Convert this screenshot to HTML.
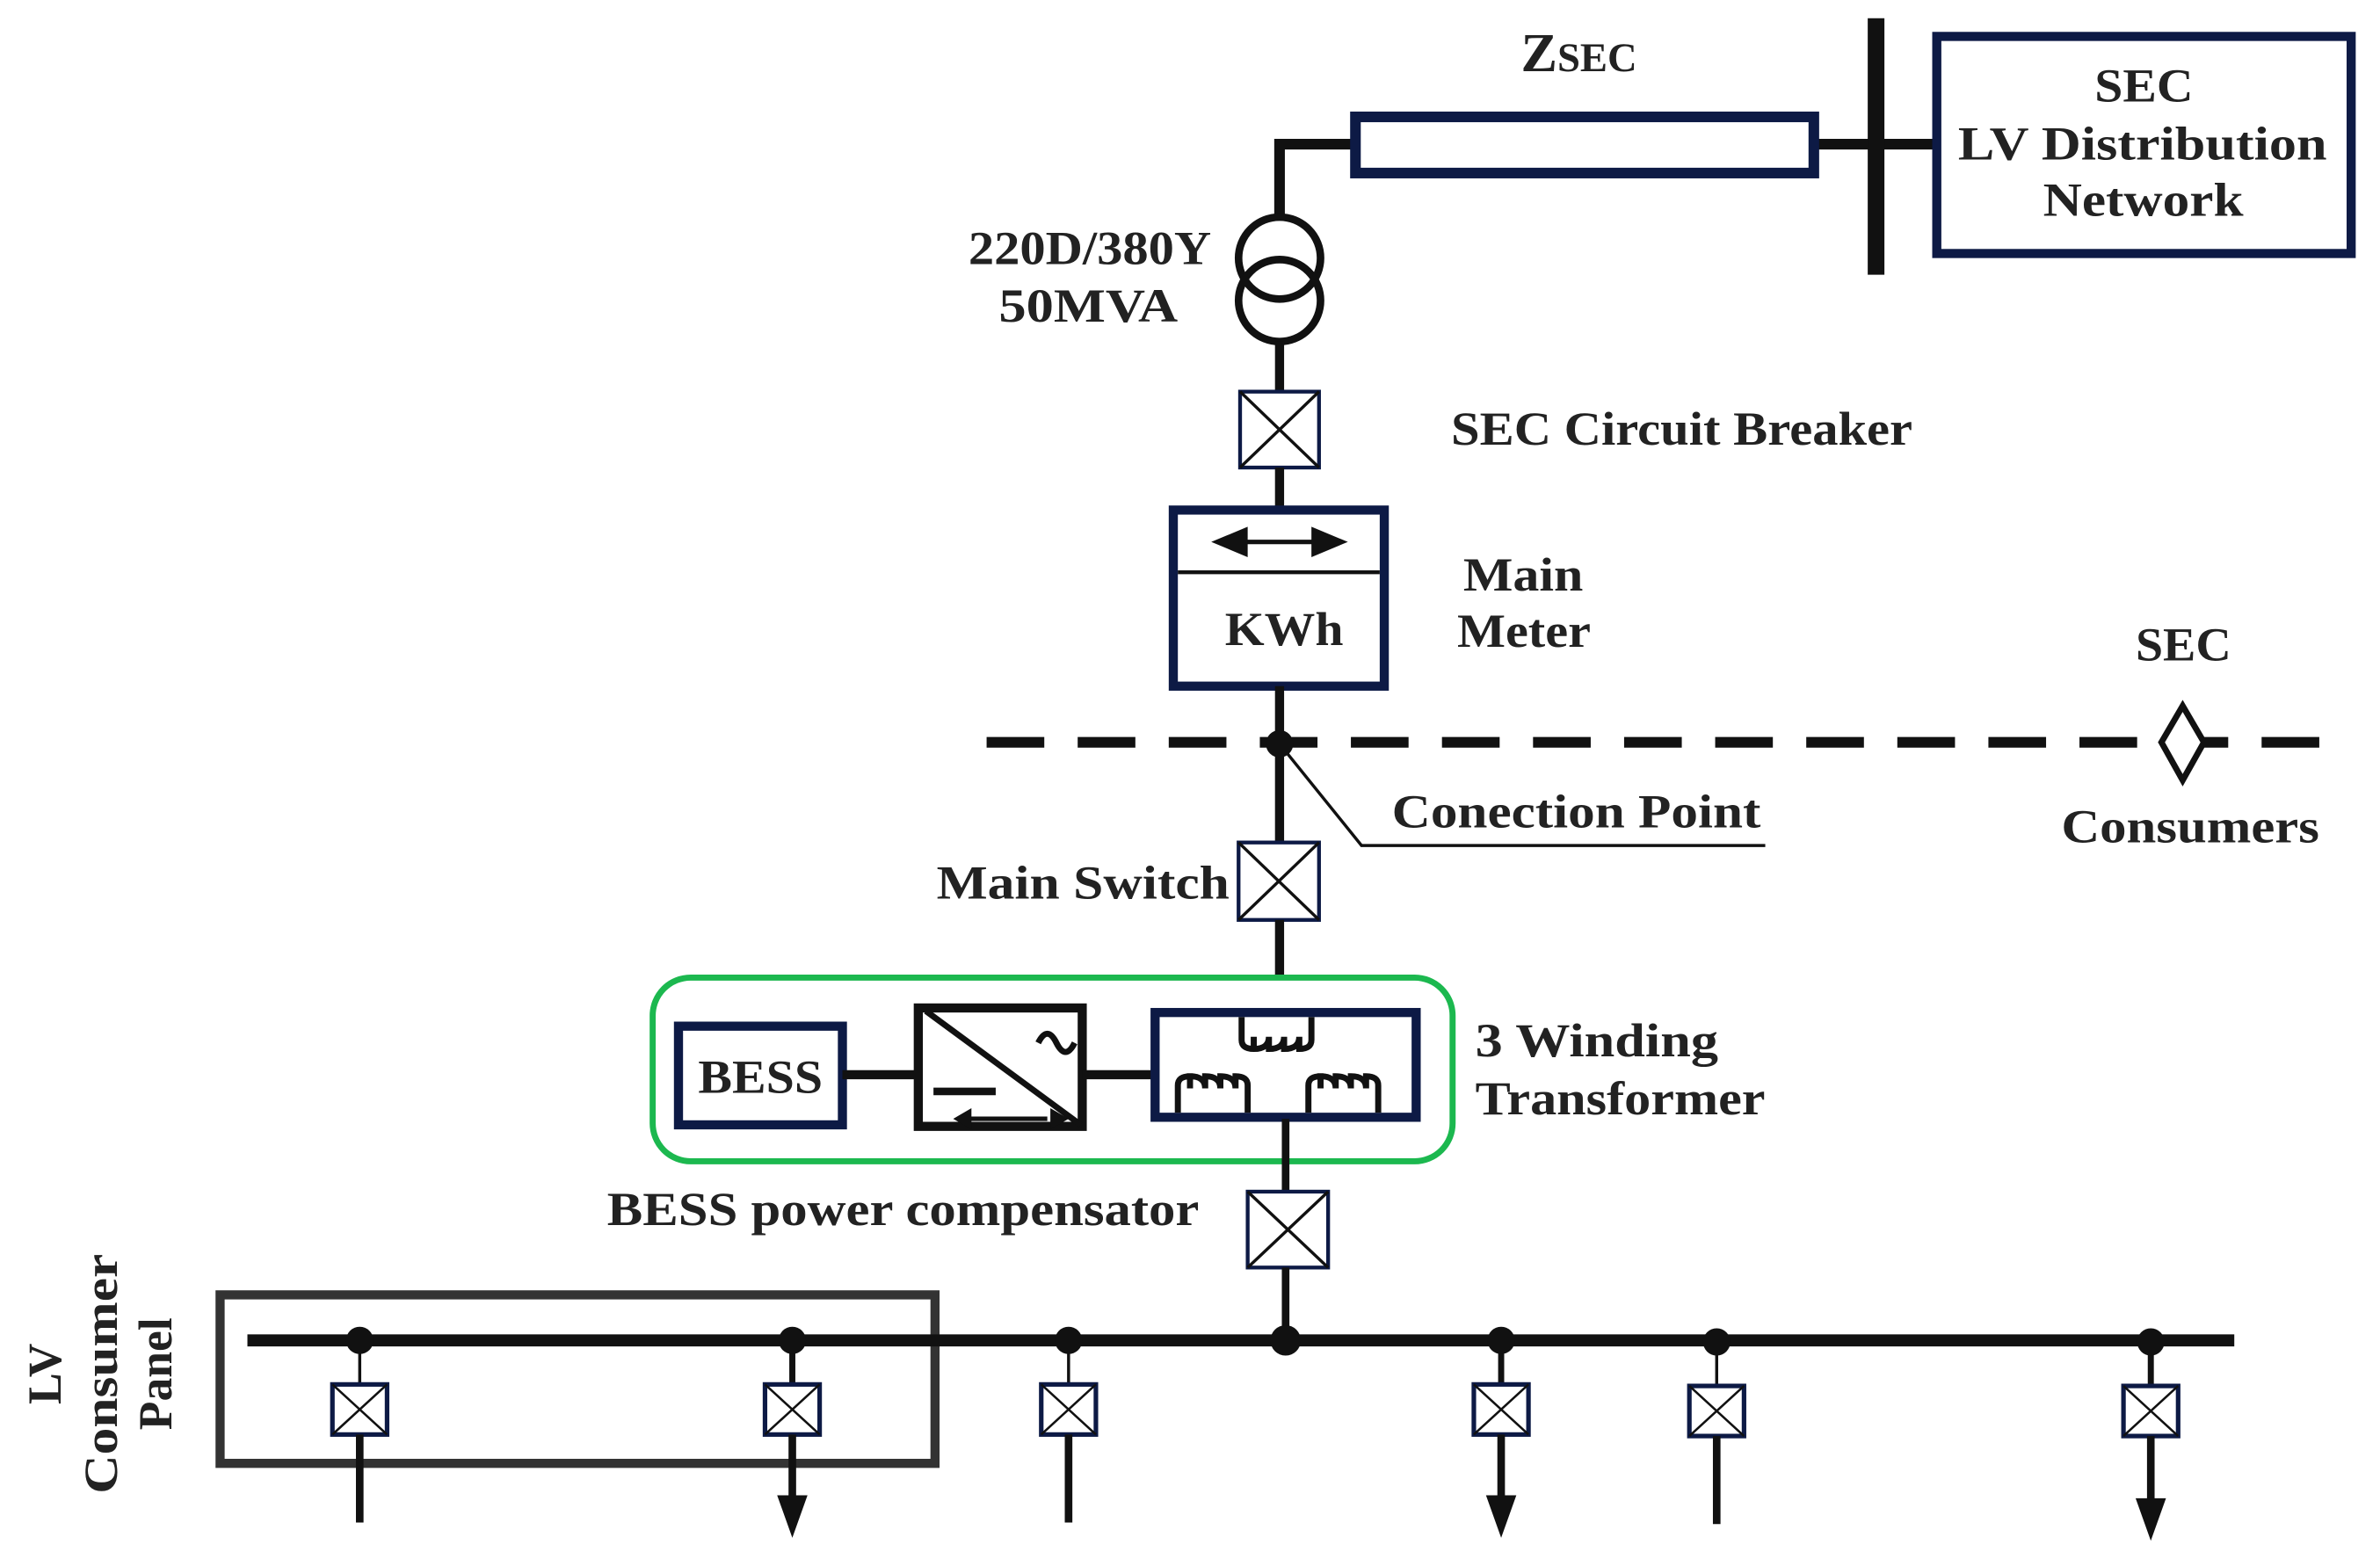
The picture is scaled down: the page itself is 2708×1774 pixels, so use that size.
<!DOCTYPE html>
<html><head><style>html,body{margin:0;padding:0;background:#fff}svg{display:block}</style></head><body>
<svg width="2708" height="1774" viewBox="0 0 1568 1027" preserveAspectRatio="none" xmlns="http://www.w3.org/2000/svg" font-family="'Liberation Serif',serif" font-weight="bold" fill="#222">
<g stroke="#111" fill="none">
<polyline points="843,145 843,95 891,95" stroke-width="7"/>
<line x1="1196" y1="95" x2="1275" y2="95" stroke-width="7"/>
<line x1="1236" y1="12" x2="1236" y2="181" stroke-width="11"/>
<rect x="893" y="77" width="302" height="37" stroke="#0d1a45" stroke-width="7"/>
<rect x="1276" y="24" width="273" height="143" stroke="#0d1a45" stroke-width="6"/>
<circle cx="843" cy="170" r="27" stroke-width="5"/>
<circle cx="843" cy="198" r="27" stroke-width="5"/>
<line x1="843" y1="225" x2="843" y2="258" stroke-width="6"/>
<rect x="817" y="258" width="52" height="50" stroke="#0d1a45" stroke-width="2.5"/>
<path d="M817,258L869,308M869,258L817,308" stroke-width="2"/>
<line x1="843" y1="308" x2="843" y2="336" stroke-width="6"/>
<rect x="773" y="336" width="139" height="116" stroke="#0d1a45" stroke-width="6"/>
<line x1="776" y1="377" x2="909" y2="377" stroke-width="2.5"/>
<line x1="815" y1="357" x2="872" y2="357" stroke-width="3"/>
<line x1="843" y1="452" x2="843" y2="555" stroke-width="6"/>
<line x1="650" y1="489" x2="1532" y2="489" stroke-width="7" stroke-dasharray="38,22"/>
<polyline points="843,490 897,557 1163,557" stroke-width="2"/>
<path d="M1438,465L1452,489L1438,514L1424,489Z" stroke-width="4" fill="#fff"/>
<rect x="816" y="555" width="53" height="51" stroke="#0d1a45" stroke-width="2.5"/>
<path d="M816,555L869,606M869,555L816,606" stroke-width="2"/>
<line x1="843" y1="606" x2="843" y2="645" stroke-width="6"/>
<rect x="430" y="644" width="527" height="121" rx="25" stroke="#1cb84f" stroke-width="4"/>
<rect x="447" y="676" width="108" height="65" stroke="#0d1a45" stroke-width="6"/>
<line x1="555" y1="708" x2="604" y2="708" stroke-width="6"/>
<rect x="605" y="664" width="108" height="78" stroke-width="6"/>
<line x1="610" y1="666" x2="712" y2="741" stroke-width="4"/>
<path d="M684,687q6,-12 12,0t12,0" stroke-width="4"/>
<line x1="615" y1="719" x2="656" y2="719" stroke-width="5"/>
<line x1="635" y1="737" x2="690" y2="737" stroke-width="3"/>
<line x1="713" y1="708" x2="760" y2="708" stroke-width="6"/>
<rect x="761" y="667" width="172" height="69" stroke="#0d1a45" stroke-width="6"/>
<path d="M818,670v15q0,6 8,6v-8v8q10,0 10,-8v8q10,0 10,-8v8q10,0 10,-8v8q8,0 8,-6v-15" stroke-width="4"/>
<path d="M776,733v-18q0,-6 8,-6v8v-8q10,0 10,8v-8q10,0 10,8v-8q10,0 10,8v-8q8,0 8,6v18" stroke-width="4"/>
<path d="M862,733v-18q0,-6 8,-6v8v-8q10,0 10,8v-8q10,0 10,8v-8q10,0 10,8v-8q8,0 8,6v18" stroke-width="4"/>
<line x1="847" y1="737" x2="847" y2="785" stroke-width="5"/>
<rect x="822" y="785" width="53" height="50" stroke="#0d1a45" stroke-width="2.5"/>
<path d="M822,785L875,835M875,785L822,835" stroke-width="2"/>
<line x1="847" y1="835" x2="847" y2="883" stroke-width="5"/>
<rect x="145" y="853" width="471" height="111" stroke="#333" stroke-width="6"/>
<line x1="163" y1="883" x2="1472" y2="883" stroke-width="8"/>
</g>
<g fill="#111">
<path d="M798,357L822,347L822,367Z M888,357L864,347L864,367Z"/>
<path d="M628,737L640,730L640,744Z M704,737L692,730L692,744Z"/>
<circle cx="843" cy="490" r="9"/>
<circle cx="847" cy="883" r="10"/>
</g>
<g fill="none" stroke="#111">
<g transform="translate(237,0)"><line x1="0" y1="883" x2="0" y2="912" stroke-width="2"/><rect x="-18" y="912" width="36" height="33" stroke="#0d1a45" stroke-width="3"/><path d="M-18,912L18,945M18,912L-18,945" stroke-width="1.5"/><line x1="0" y1="945" x2="0" y2="1003" stroke-width="5"/></g>
<g transform="translate(522,0)"><line x1="0" y1="883" x2="0" y2="912" stroke-width="4"/><rect x="-18" y="912" width="36" height="33" stroke="#0d1a45" stroke-width="3"/><path d="M-18,912L18,945M18,912L-18,945" stroke-width="1.5"/><line x1="0" y1="945" x2="0" y2="990" stroke-width="5"/></g>
<g transform="translate(704,0)"><line x1="0" y1="883" x2="0" y2="912" stroke-width="2"/><rect x="-18" y="912" width="36" height="33" stroke="#0d1a45" stroke-width="3"/><path d="M-18,912L18,945M18,912L-18,945" stroke-width="1.5"/><line x1="0" y1="945" x2="0" y2="1003" stroke-width="5"/></g>
<g transform="translate(989,0)"><line x1="0" y1="883" x2="0" y2="912" stroke-width="4"/><rect x="-18" y="912" width="36" height="33" stroke="#0d1a45" stroke-width="3"/><path d="M-18,912L18,945M18,912L-18,945" stroke-width="1.5"/><line x1="0" y1="945" x2="0" y2="990" stroke-width="5"/></g>
<g transform="translate(1131,0)"><line x1="0" y1="883" x2="0" y2="913" stroke-width="2"/><rect x="-18" y="913" width="36" height="33" stroke="#0d1a45" stroke-width="3"/><path d="M-18,913L18,946M18,913L-18,946" stroke-width="1.5"/><line x1="0" y1="946" x2="0" y2="1004" stroke-width="5"/></g>
<g transform="translate(1417,0)"><line x1="0" y1="883" x2="0" y2="913" stroke-width="4"/><rect x="-18" y="913" width="36" height="33" stroke="#0d1a45" stroke-width="3"/><path d="M-18,913L18,946M18,913L-18,946" stroke-width="1.5"/><line x1="0" y1="946" x2="0" y2="992" stroke-width="5"/></g>
</g>
<g fill="#111">
<circle cx="237" cy="883" r="9"/><circle cx="522" cy="883" r="9"/><circle cx="704" cy="883" r="9"/><circle cx="989" cy="883" r="9"/><circle cx="1131" cy="884" r="9"/><circle cx="1417" cy="884" r="9"/>
<path d="M512,985L532,985L522,1013Z M979,985L999,985L989,1013Z M1407,987L1427,987L1417,1015Z"/>
</g>
<g font-size="31" fill="#222" lengthAdjust="spacingAndGlyphs">
<text x="1002" y="47" font-size="36">Z<tspan font-size="27">SEC</tspan></text>
<text x="1380" y="67" textLength="65" lengthAdjust="spacingAndGlyphs">SEC</text>
<text x="1290" y="105" textLength="243" lengthAdjust="spacingAndGlyphs">LV Distribution</text>
<text x="1346" y="142" textLength="132" lengthAdjust="spacingAndGlyphs">Network</text>
<text x="638" y="174" textLength="160" lengthAdjust="spacingAndGlyphs">220D/380Y</text>
<text x="658" y="212" textLength="118" lengthAdjust="spacingAndGlyphs">50MVA</text>
<text x="956" y="293" textLength="304" lengthAdjust="spacingAndGlyphs">SEC Circuit Breaker</text>
<text x="807" y="425" textLength="78" lengthAdjust="spacingAndGlyphs">KWh</text>
<text x="964" y="389" textLength="79" lengthAdjust="spacingAndGlyphs">Main</text>
<text x="960" y="426" textLength="88" lengthAdjust="spacingAndGlyphs">Meter</text>
<text x="1407" y="435" textLength="63" lengthAdjust="spacingAndGlyphs">SEC</text>
<text x="1358" y="555" textLength="170" lengthAdjust="spacingAndGlyphs">Consumers</text>
<text x="917" y="545" textLength="243" lengthAdjust="spacingAndGlyphs">Conection Point</text>
<text x="617" y="592" textLength="193" lengthAdjust="spacingAndGlyphs">Main Switch</text>
<text x="460" y="720" textLength="82" lengthAdjust="spacingAndGlyphs">BESS</text>
<text x="972" y="696" textLength="160" lengthAdjust="spacingAndGlyphs">3 Winding</text>
<text x="972" y="734" textLength="191" lengthAdjust="spacingAndGlyphs">Transformer</text>
<text x="400" y="807" textLength="390" lengthAdjust="spacingAndGlyphs">BESS power compensator</text>
<g transform="translate(75,905) rotate(-90)" text-anchor="middle">
<text x="0" y="-35">LV</text>
<text x="0" y="2" textLength="158" lengthAdjust="spacingAndGlyphs">Consumer</text>
<text x="0" y="38">Panel</text>
</g>
</g>
</svg>
</body></html>
